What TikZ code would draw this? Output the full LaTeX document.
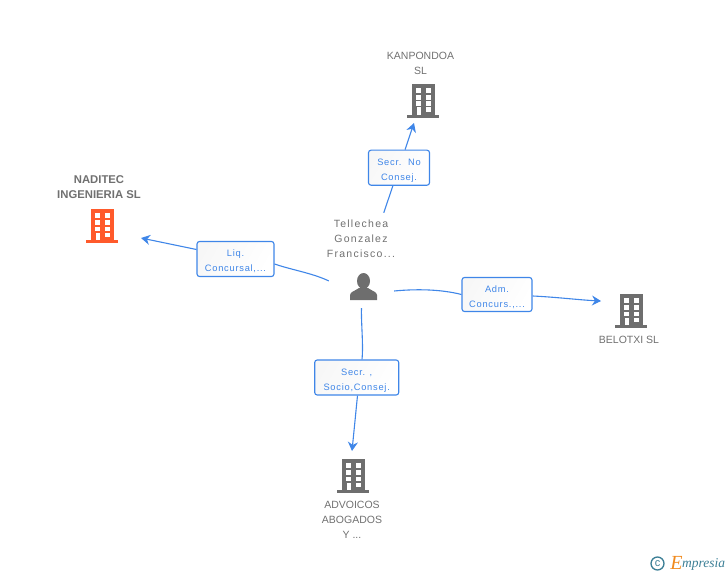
\documentclass[tikz,border=0pt]{standalone}
\usepackage{fontspec}
\usepackage{amsmath}
\setmainfont{Liberation Sans}
\newfontfamily\namefont{Liberation Sans}
\newfontfamily\persfont[LetterSpace=12]{Liberation Sans}
\newfontfamily\relfont[LetterSpace=8]{Liberation Sans}
\newfontfamily\logofont{Liberation Serif}
\usetikzlibrary{arrows.meta}

\newcommand{\relstrut}{\rule{0pt}{12pt}}

\definecolor{bldgray}{HTML}{6E6E6E}
\definecolor{bldred}{HTML}{FF5A2B}
\definecolor{txtgray}{HTML}{707070}
\definecolor{linkblue}{HTML}{3F86E8}
\definecolor{logoteal}{HTML}{3C7F96}
\definecolor{logoorange}{HTML}{F08A1E}

\tikzset{
	company/.style={text=txtgray,align=center,inner sep=0pt,font=\namefont\fontsize{10.5}{15}\selectfont},
	relbox/.style={draw=linkblue,line width=1.1pt,rounded corners=2.5pt,left color=black!3,right color=white,shading angle=60,text=linkblue,align=center,inner sep=0pt,font=\relfont\fontsize{9.3}{15}\selectfont},
	link/.style={draw=linkblue,line width=1.1pt,-{Stealth[length=9pt,width=10pt]}},
	plainlink/.style={draw=linkblue,line width=1.1pt},
	building/.pic={
		\fill[pic actions] (-11.5,-17) rectangle (11.5,14);
		\fill[pic actions] (-16,14) rectangle (16,17);
		\foreach \y in {-13,-6,0.5,6.5}
			\fill[white] (2.7,\y) rectangle (8,\y+4.6);
		\foreach \y in {-13,-6,0.5}
			\fill[white] (-7.5,\y) rectangle (-2.3,\y+4.6);
		\fill[white] (-6.5,6.5) rectangle (-2.3,14);
	}
}

\begin{document}
\begin{tikzpicture}[x=1pt,y=-1pt]
	\useasboundingbox (0,0) rectangle (728,575);
	
	% companies
	\pic[fill=bldgray] at (423,101) {building};
	\pic[fill=bldred] at (102,226) {building};
	\pic[fill=bldgray] at (631,311) {building};
	\pic[fill=bldgray] at (353,476) {building};
	
	\node[company] (kanpondoa) at (420.5,63) {KANPONDOA\\SL};
	\node[company,font=\bfseries\fontsize{11.3}{15}\selectfont] (naditec) at (99,187.5) {NADITEC\\INGENIERIA SL};
	\node[company] (belotxi) at (629,340) {BELOTXI SL};
	\node[company] (advoicos) at (352,520) {ADVOICOS\\ABOGADOS\\Y ...};
	
	% person
	\node[company,font=\persfont\fontsize{10.5}{15}\selectfont] (tellechea) at (361,239) {Tellechea\\Gonzalez\\Francisco...};
	\fill[bldgray] (363.5,281) ellipse[x radius=6.5,y radius=8];
	\fill[bldgray] (350,300) -- (350,295) .. controls (350.5,291.5) and (355,291) .. (359,288) -- (368,288) .. controls (372,291) and (376.5,291.5) .. (377,295) -- (377,300) -- cycle;
	\node[minimum width=65pt,minimum height=95pt,inner sep=0pt] (hub) at (361.5,260.5) {};
	
	% relations
	\node[relbox,minimum width=61pt,minimum height=35pt] (secrno) at (399,167.7) {\relstrut Secr.\ \ No\\Consej.};
	\node[relbox,minimum width=77pt,minimum height=35pt] (liq) at (235.5,259) {\relstrut Liq.\\Concursal,...};
	\node[relbox,minimum width=70pt,minimum height=34pt] (adm) at (497,294.5) {\relstrut Adm.\\Concurs.,...};
	\node[relbox,minimum width=84pt,minimum height=35pt] (socio) at (356.7,377.5) {\relstrut Secr. ,\\Socio,Consej.};
	
	\coordinate (kanpondoatip) at (414,123);
	\coordinate (naditectip) at (141,238);
	\coordinate (belotxitip) at (601,301);
	\coordinate (advoicostip) at (352,451);
	
	\draw[plainlink] (hub.65.6) -- (secrno);
	\draw[link] (secrno) -- (kanpondoatip);
	\draw[plainlink] (hub.212.2) .. controls (312,273) and (292,270) .. (liq.east |- 0,264);
	\draw[link] (liq.west |- 0,249.5) -- (naditectip);
	\draw[plainlink] (hub.317.8) .. controls (415,289) and (440,289) .. (adm.west);
	\draw[link] (adm.east |- 0,296) .. controls (555,297) and (580,300) .. (belotxitip);
	\draw[plainlink] (hub.south) .. controls (361,322) and (363.5,345) .. (socio.north -| 362,0);
	\draw[link] (socio.south -| 357.5,0) -- (advoicostip);
	
	% logo
	\node[draw=logoteal,line width=1.3pt,circle,minimum size=13pt,inner sep=0pt,text=logoteal,font=\fontsize{11}{11}\selectfont] (copyr) at (657.5,563.5) {c};
	\node[text=logoorange,inner sep=0pt,font=\logofont\itshape\fontsize{20}{20}\selectfont] (logoe) at (676.5,562.5) {E};
	\node[text=logoteal,inner sep=0pt,anchor=west,font=\logofont\itshape\fontsize{13.5}{13.5}\selectfont] (logotxt) at (682,564.5) {mpresia};
	
\end{tikzpicture}
\end{document}
